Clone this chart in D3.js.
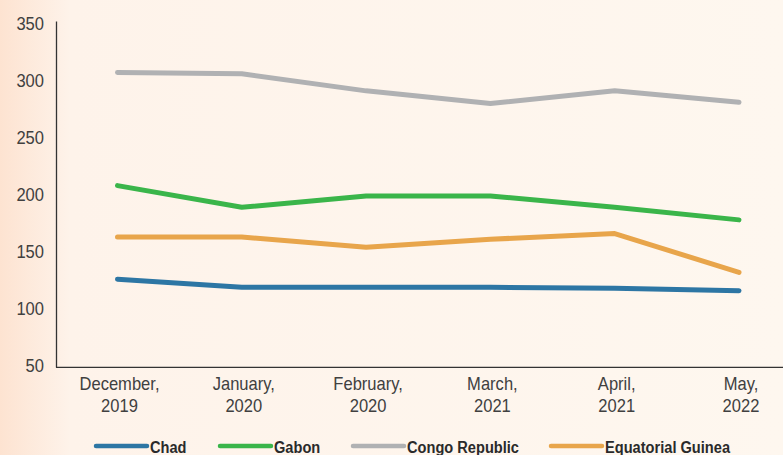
<!DOCTYPE html>
<html><head><meta charset="utf-8">
<script src="https://cdn.jsdelivr.net/npm/d3@7"></script>
<style>
html,body{margin:0;padding:0;}
body{width:783px;height:455px;overflow:hidden;}
svg{display:block;font-family:"Liberation Sans",Arial,sans-serif;}
</style></head><body>
<svg id="c" width="783" height="455"></svg>
<script>
const categories = [["December,","2019"],["January,","2020"],["February,","2020"],["March,","2021"],["April,","2021"],["May,","2022"]];
const seriesNames = ["Chad","Gabon","Congo Republic","Equatorial Guinea"];
const chad = [126,119,119,119,118,116];
const gabon = [208,189,199,199,189,178];
const congo = [307,306,291,280,291,281];
const eqGuinea = [163,163,154,161,166,132];
const yTicks = [50,100,150,200,250,300,350];
const colors = ["#2d76a4","#3ab54a","#b0b1b3","#e8a54b"];

const svg = d3.select("#c");
const defs = svg.append("defs");
const grad = defs.append("linearGradient").attr("id","bg").attr("x1","0").attr("x2","1").attr("y1","0").attr("y2","0");
grad.append("stop").attr("offset","0").attr("stop-color","#fde3d1");
grad.append("stop").attr("offset","0.09").attr("stop-color","#fef3ea");
grad.append("stop").attr("offset","1").attr("stop-color","#fef7ef");
svg.append("rect").attr("width",783).attr("height",455).attr("fill","url(#bg)");

const x = d3.scalePoint().domain(d3.range(categories.length)).range([117.5, 739]);
const y = d3.scaleLinear().domain([50,350]).range([366,23.5]);

const textColor = "#404040";
const sx = 0.92;
svg.append("line").attr("x1",56.5).attr("x2",56.5).attr("y1",21.5).attr("y2",367.5).attr("stroke","#333").attr("stroke-width",1.3);
svg.append("line").attr("x1",56).attr("x2",783).attr("y1",367.3).attr("y2",367.3).attr("stroke","#333").attr("stroke-width",1.3);

svg.append("g").selectAll("text").data(yTicks).join("text")
  .attr("transform",d=>`translate(44,${y(d)}) scale(${sx},1)`).attr("dy","0.36em")
  .attr("text-anchor","end").attr("font-size",18).attr("fill",textColor)
  .text(d=>d);

const xl = svg.append("g").selectAll("text").data(categories).join("text")
  .attr("text-anchor","middle").attr("font-size",18).attr("fill",textColor)
  .attr("transform",(d,i)=>`translate(${x(i)+2},0) scale(${sx},1)`);
xl.append("tspan").attr("x",0).attr("y",390).text(d=>d[0]);
xl.append("tspan").attr("x",0).attr("y",412).text(d=>d[1]);

const series = [chad,gabon,congo,eqGuinea];
const line = d3.line().x((d,i)=>x(i)).y(d=>y(d));
[2,1,3,0].forEach(k=>{
  svg.append("path").attr("d",line(series[k])).attr("fill","none")
    .attr("stroke",colors[k]).attr("stroke-width",5)
    .attr("stroke-linecap","round").attr("stroke-linejoin","round");
});

const legX = [96,220,353,551];
const lg = svg.append("g").selectAll("g").data(seriesNames).join("g")
  .attr("transform",(d,i)=>`translate(${legX[i]},446)`);
lg.append("line").attr("x1",0).attr("x2",51).attr("y1",0).attr("y2",0)
  .attr("stroke",(d,i)=>colors[i]).attr("stroke-width",4.5).attr("stroke-linecap","round");
lg.append("text").attr("transform","translate(54,6.5) scale(0.86,1)").attr("font-size",17).attr("font-weight","bold")
  .attr("fill","#2a2a2a").text(d=>d);
</script>
</body></html>
